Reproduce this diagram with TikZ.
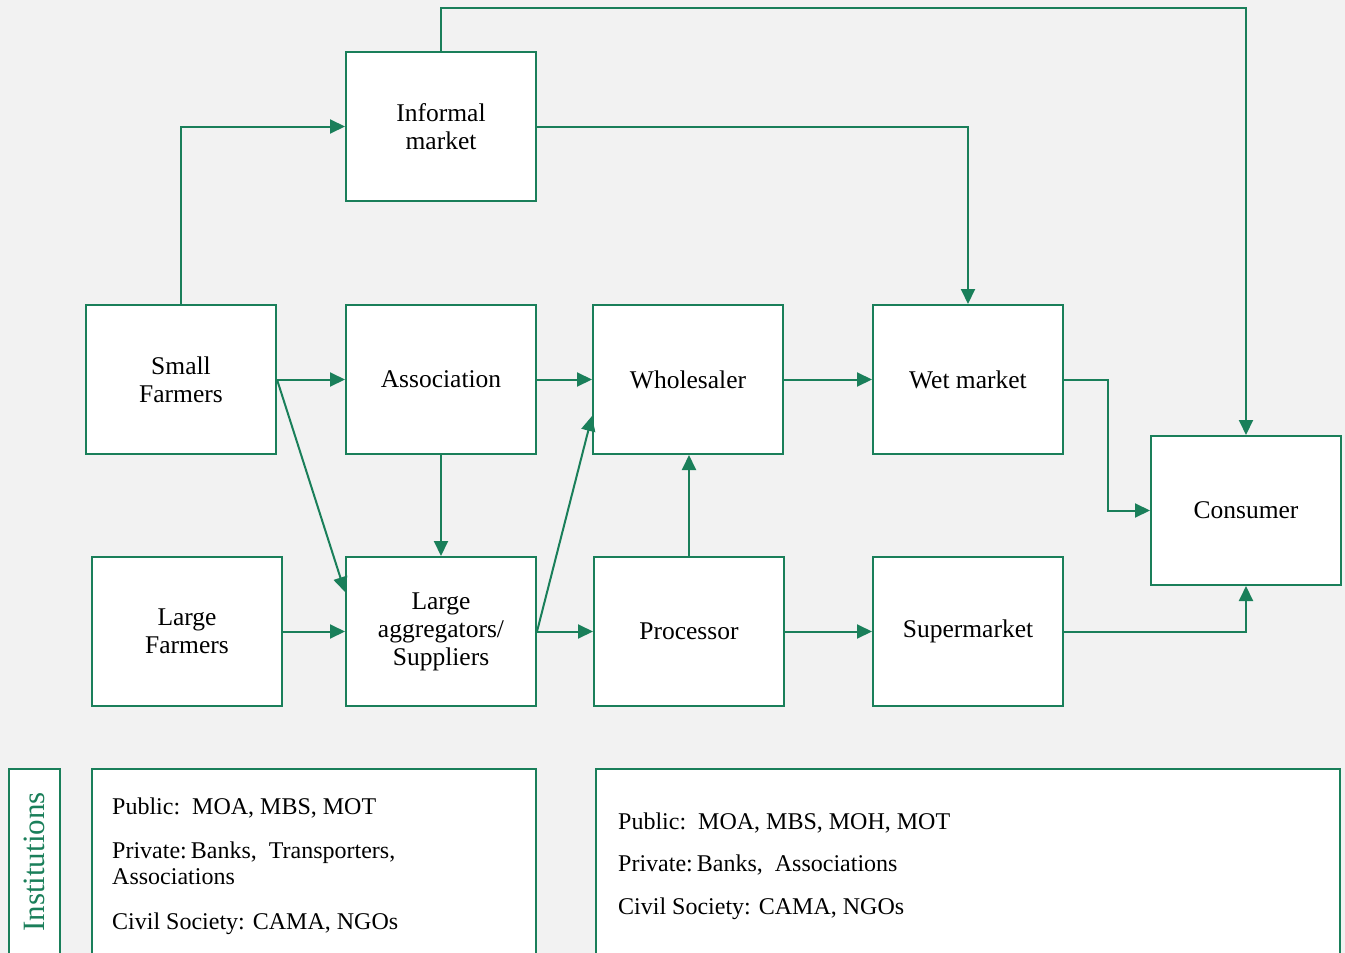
\documentclass[tikz,border=0pt]{standalone}
\usepackage{fontspec}
\setmainfont{Liberation Serif}
\usetikzlibrary{arrows.meta}
\definecolor{leaf}{RGB}{26,127,90}
\definecolor{paper}{RGB}{242,242,242}

\begin{document}
\begin{tikzpicture}[x=1pt,y=-1pt,
  actor/.style={draw=leaf, line width=2pt, fill=white, minimum width=190pt,
    minimum height=149pt, align=center, inner sep=0pt,
    font=\fontsize{25.5}{28}\selectfont},
  flow/.style={draw=leaf, line width=2pt, -{Triangle[length=15pt,width=14pt]}},
  frame/.style={draw=leaf, line width=2pt, fill=white},
  infoline/.style={anchor=base west, inner sep=0pt, font=\fontsize{24}{28}\selectfont},
]
% canvas
\useasboundingbox (0,0) rectangle (1345,953);
\fill[paper] (0,0) rectangle (1345,953);
\clip (0,0) rectangle (1345,953);

% chain actors
\node[actor] (informal) at (441,126.5) {Informal\\market};
\node[actor] (small)    at (181,379.5) {Small\\Farmers};
\node[actor] (assoc)    at (441,379.5) {Association};
\node[actor] (whole)    at (688,379.5) {Wholesaler};
\node[actor] (wet)      at (968,379.5) {Wet market};
\node[actor] (consumer) at (1246,510.5) {Consumer};
\node[actor] (large)    at (187,631.5) {Large\\Farmers};
\node[actor] (agg)      at (441,631.5) {Large\\aggregators/\\Suppliers};
\node[actor] (proc)     at (689,631.5) {Processor};
\node[actor] (super)    at (968,631.5) {Supermarket};

% product flows
\draw[flow] (small.north) |- (informal.west);
\draw[flow] (informal.north) -- ++(0,-43) -| (consumer.north);
\draw[flow] (informal.east) -| (wet.north);
\draw[flow] (small.east) -- (assoc.west);
\draw[flow] (small.east) -- ([yshift=-36pt]agg.north west);
\draw[flow] (assoc.east) -- (whole.west);
\draw[flow] (assoc.south) -- (agg.north);
\draw[flow] (large.east) -- (agg.west);
\draw[flow] (agg.east) -- ([yshift=-112pt]whole.north west);
\draw[flow] (agg.east) -- (proc.west);
\draw[flow] (proc.north) -- (proc.north |- whole.south);
\draw[flow] (whole.east) -- (wet.west);
\draw[flow] (wet.east) -- ++(44,0) |- (consumer.west);
\draw[flow] (proc.east) -- (super.west);
\draw[flow] (super.east) -| (consumer.south);

% institutions panel
\draw[frame] (9,769) rectangle (60,970);
\draw[frame] (92,769) rectangle (536,970);
\draw[frame] (596,769) rectangle (1340,970);
\node[rotate=90, text=leaf, inner sep=0pt, font=\fontsize{31}{36}\selectfont]
  (instlabel) at (34.5,862) {Institutions};

\node[infoline] (pubA)  at (112,814) {Public:\ \ MOA, MBS, MOT};
\node[infoline] (privA) at (112,858) {Private:\,Banks,\ \ Transporters,};
\node[infoline] (privB) at (112,884) {Associations};
\node[infoline] (civA)  at (112,929) {Civil Society: CAMA, NGOs};

\node[infoline] (pubB)  at (618,829) {Public:\ \ MOA, MBS, MOH, MOT};
\node[infoline] (privC) at (618,871) {Private:\,Banks,\ \ Associations};
\node[infoline] (civB)  at (618,914) {Civil Society: CAMA, NGOs};
\end{tikzpicture}
\end{document}
